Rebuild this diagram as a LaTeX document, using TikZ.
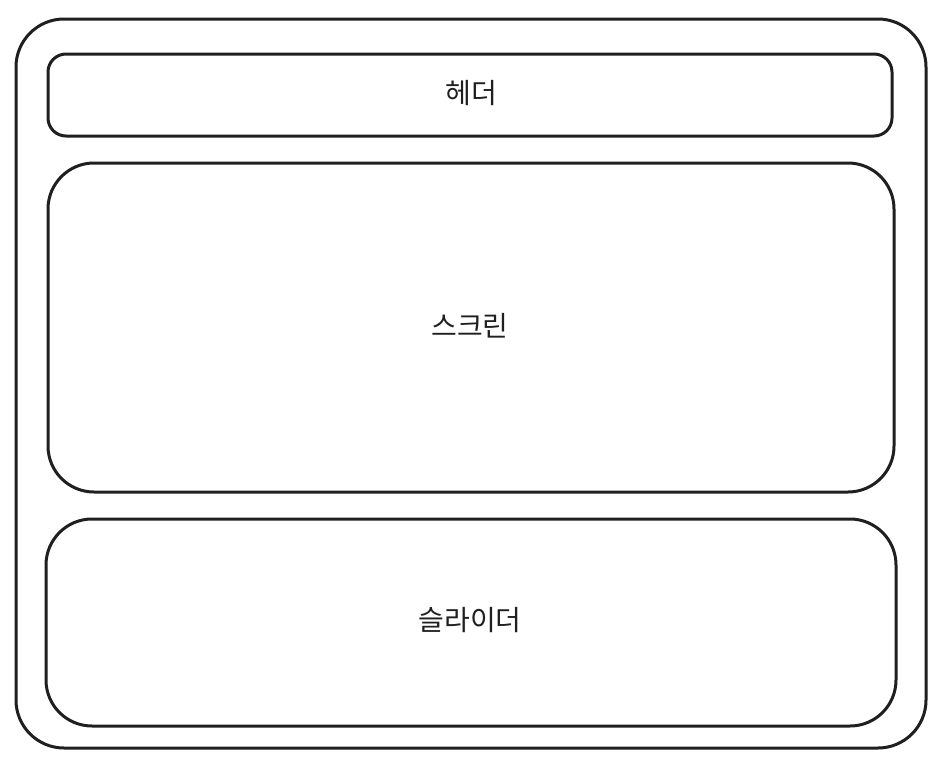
\documentclass[tikz,border=0pt]{standalone}
\usepackage{fontspec}
\newfontfamily\krfont{Noto Sans CJK KR}
\begin{document}
\begin{tikzpicture}[x=1pt,y=-1pt,
  box/.style={draw=black!88,line width=3pt,rounded corners=#1},
  lbl/.style={font=\krfont\fontsize{28}{32}\selectfont,text=black!88,inner sep=0pt}]
\useasboundingbox (0,0) rectangle (948,766);
\draw[box=48pt] (16,19) rectangle (926,748);
\draw[box=18pt] (48,54) rectangle (892,136);
\draw[box=46pt] (48,163) rectangle (894,492);
\draw[box=46pt] (46,519) rectangle (896,726);
\node[lbl] (header) at (471,93) {헤더};
\node[lbl] (screen) at (470,326) {스크린};
\node[lbl] (slider) at (470,620) {슬라이더};
\end{tikzpicture}
\end{document}
